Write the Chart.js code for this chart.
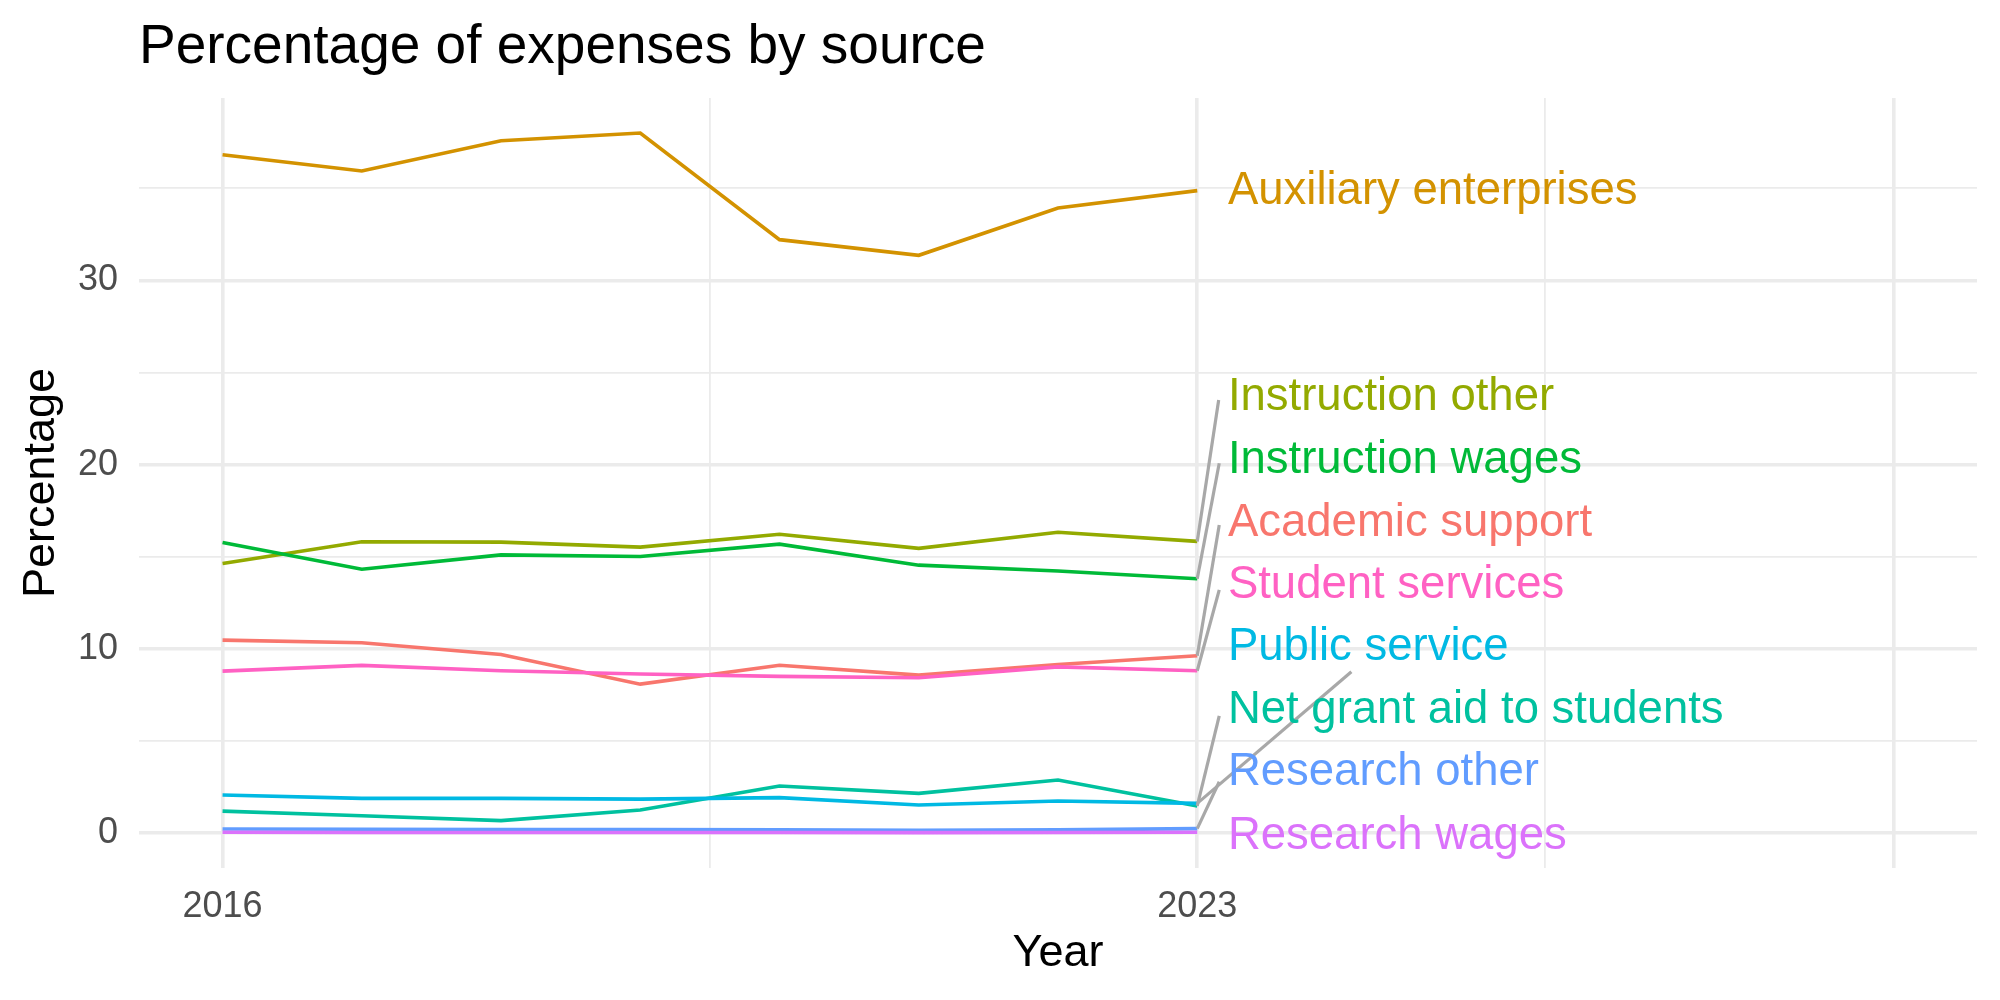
<!DOCTYPE html>
<html>
<head>
<meta charset="utf-8">
<script src="https://cdn.jsdelivr.net/npm/chart.js@4/dist/chart.umd.min.js"></script>
<style>
  html, body { margin: 0; padding: 0; background: #ffffff; }
  #wrap { width: 2000px; height: 1000px; }
</style>
</head>
<body>
<div id="wrap"><canvas id="c" width="2000" height="1000"></canvas></div>
<script>
// ---------------- DATA ----------------
const years = [2016, 2017, 2018, 2019, 2020, 2021, 2022, 2023];

const categories = [
  "Academic support",
  "Auxiliary enterprises",
  "Instruction other",
  "Instruction wages",
  "Net grant aid to students",
  "Public service",
  "Research other",
  "Research wages",
  "Student services"
];

const academicSupport   = [10.47, 10.33, 9.69, 8.08, 9.11, 8.57, 9.15, 9.62];
const auxiliaryEnterprises = [36.82, 35.94, 37.58, 38.00, 32.21, 31.36, 33.93, 34.87];
const instructionOther  = [14.63, 15.81, 15.79, 15.52, 16.22, 15.45, 16.33, 15.83];
const instructionWages  = [15.77, 14.32, 15.10, 15.01, 15.68, 14.54, 14.22, 13.80];
const netGrantAid       = [1.19, 0.94, 0.67, 1.25, 2.55, 2.15, 2.88, 1.47];
const publicService     = [2.06, 1.88, 1.88, 1.84, 1.92, 1.52, 1.74, 1.61];
const researchOther     = [0.22, 0.20, 0.19, 0.19, 0.17, 0.14, 0.17, 0.24];
const researchWages     = [0.04, 0.03, 0.03, 0.03, 0.03, 0.02, 0.03, 0.04];
const studentServices   = [8.79, 9.10, 8.81, 8.63, 8.50, 8.43, 9.02, 8.81];

const seriesValues = [
  academicSupport, auxiliaryEnterprises, instructionOther, instructionWages,
  netGrantAid, publicService, researchOther, researchWages, studentServices
];

const xTickValues = [2016, 2019.5, 2023, 2025.5, 2028];
const xMajorTicks = [2016, 2023, 2028];
const xTickLabels = { 2016: "2016", 2023: "2023" };
const yTickValues = [0, 5, 10, 15, 20, 25, 30, 35];
const yTickLabels = { 0: "0", 10: "10", 20: "20", 30: "30" };

// ---------------- STYLE / LAYOUT ----------------
const colors = ["#F8766D", "#D39200", "#93AA00", "#00BA38", "#00C19F",
                "#00B9E3", "#619CFF", "#DB72FB", "#FF61C3"];

// repelled label placement (data coordinates)
const labelX = 2023.22;
const labelY = [16.83, 34.84, 23.66, 20.22, 6.66, 10.05, 3.27, -0.18, 13.44];
// connector segment end points (null = no segment)
const segEnd = [
  [2023.158, 16.72], null, [2023.154, 23.50], [2023.158, 20.07],
  [2023.158, 6.36], [2024.107, 8.75], [2023.158, 2.78], null, [2023.158, 13.20]
];

const FONT = "'Liberation Sans', Arial, Helvetica, sans-serif";
Chart.defaults.font.family = FONT;

const datasets = categories.map((name, i) => ({
  label: name,
  data: years.map((yr, j) => ({ x: yr, y: seriesValues[i][j] })),
  borderColor: colors[i],
  backgroundColor: colors[i],
  borderWidth: 3.6,
  pointRadius: 0,
  pointHoverRadius: 0,
  tension: 0,
  fill: false,
  order: categories.length - i,
  borderCapStyle: 'butt',
  borderJoinStyle: 'miter'
}));

const annotatePlugin = {
  id: 'annotate',
  afterDatasetsDraw(chart) {
    const ctx = chart.ctx;
    const xs = chart.scales.x, ys = chart.scales.y;
    ctx.save();
    // connector segments
    ctx.strokeStyle = '#A8A8A8';
    ctx.lineWidth = 3.2;
    ctx.lineCap = 'butt';
    categories.forEach((name, i) => {
      const e = segEnd[i];
      if (!e) return;
      const last = seriesValues[i][seriesValues[i].length - 1];
      ctx.beginPath();
      ctx.moveTo(xs.getPixelForValue(years[years.length - 1]), ys.getPixelForValue(last));
      ctx.lineTo(xs.getPixelForValue(e[0]), ys.getPixelForValue(e[1]));
      ctx.stroke();
    });
    // labels
    ctx.font = "45.5px " + FONT;
    ctx.textAlign = 'left';
    ctx.textBaseline = 'middle';
    categories.forEach((name, i) => {
      ctx.fillStyle = colors[i];
      ctx.fillText(name, xs.getPixelForValue(labelX), ys.getPixelForValue(labelY[i]));
    });
    ctx.restore();
  },
  afterDraw(chart) {
    const ctx = chart.ctx;
    ctx.save();
    ctx.font = "55px " + FONT;
    ctx.fillStyle = '#000000';
    ctx.textAlign = 'left';
    ctx.textBaseline = 'alphabetic';
    ctx.fillText("Percentage of expenses by source", 139, 63);
    ctx.restore();
  }
};

new Chart(document.getElementById('c'), {
  type: 'line',
  data: { datasets },
  plugins: [annotatePlugin],
  options: {
    responsive: false,
    animation: false,
    devicePixelRatio: 1,
    layout: { padding: { top: 98, right: 23, bottom: 0, left: 0 } },
    plugins: { legend: { display: false }, tooltip: { enabled: false }, title: { display: false } },
    scales: {
      x: {
        type: 'linear',
        min: 2015.4,
        max: 2028.6,
        afterBuildTicks: (s) => { s.ticks = xTickValues.map(v => ({ value: v })); },
        afterFit: (s) => { s.height = 132; },
        border: { display: false },
        grid: {
          color: '#EBEBEB',
          drawTicks: false,
          lineWidth: (c) => (c.tick && xMajorTicks.includes(c.tick.value)) ? 3.6 : 1.8
        },
        ticks: {
          autoSkip: false,
          maxRotation: 0,
          padding: 17,
          color: '#4D4D4D',
          font: { size: 36 },
          callback: (v) => xTickLabels[v] || ''
        },
        title: {
          display: true,
          text: 'Year',
          color: '#000000',
          font: { size: 45 },
          padding: { top: 0, bottom: 19 }
        }
      },
      y: {
        type: 'linear',
        min: -1.9,
        max: 39.9,
        afterBuildTicks: (s) => { s.ticks = yTickValues.map(v => ({ value: v })); },
        afterFit: (s) => { s.width = 139; },
        border: { display: false },
        grid: {
          color: '#EBEBEB',
          drawTicks: false,
          lineWidth: (c) => (c.tick && c.tick.value % 10 === 0) ? 3.6 : 1.8
        },
        ticks: {
          autoSkip: false,
          padding: 21,
          color: '#4D4D4D',
          font: { size: 36 },
          callback: (v) => (yTickLabels[v] !== undefined ? yTickLabels[v] : '')
        },
        title: {
          display: true,
          text: 'Percentage',
          color: '#000000',
          font: { size: 45 },
          padding: { top: 15, bottom: 0 }
        }
      }
    }
  }
});
</script>
</body>
</html>
